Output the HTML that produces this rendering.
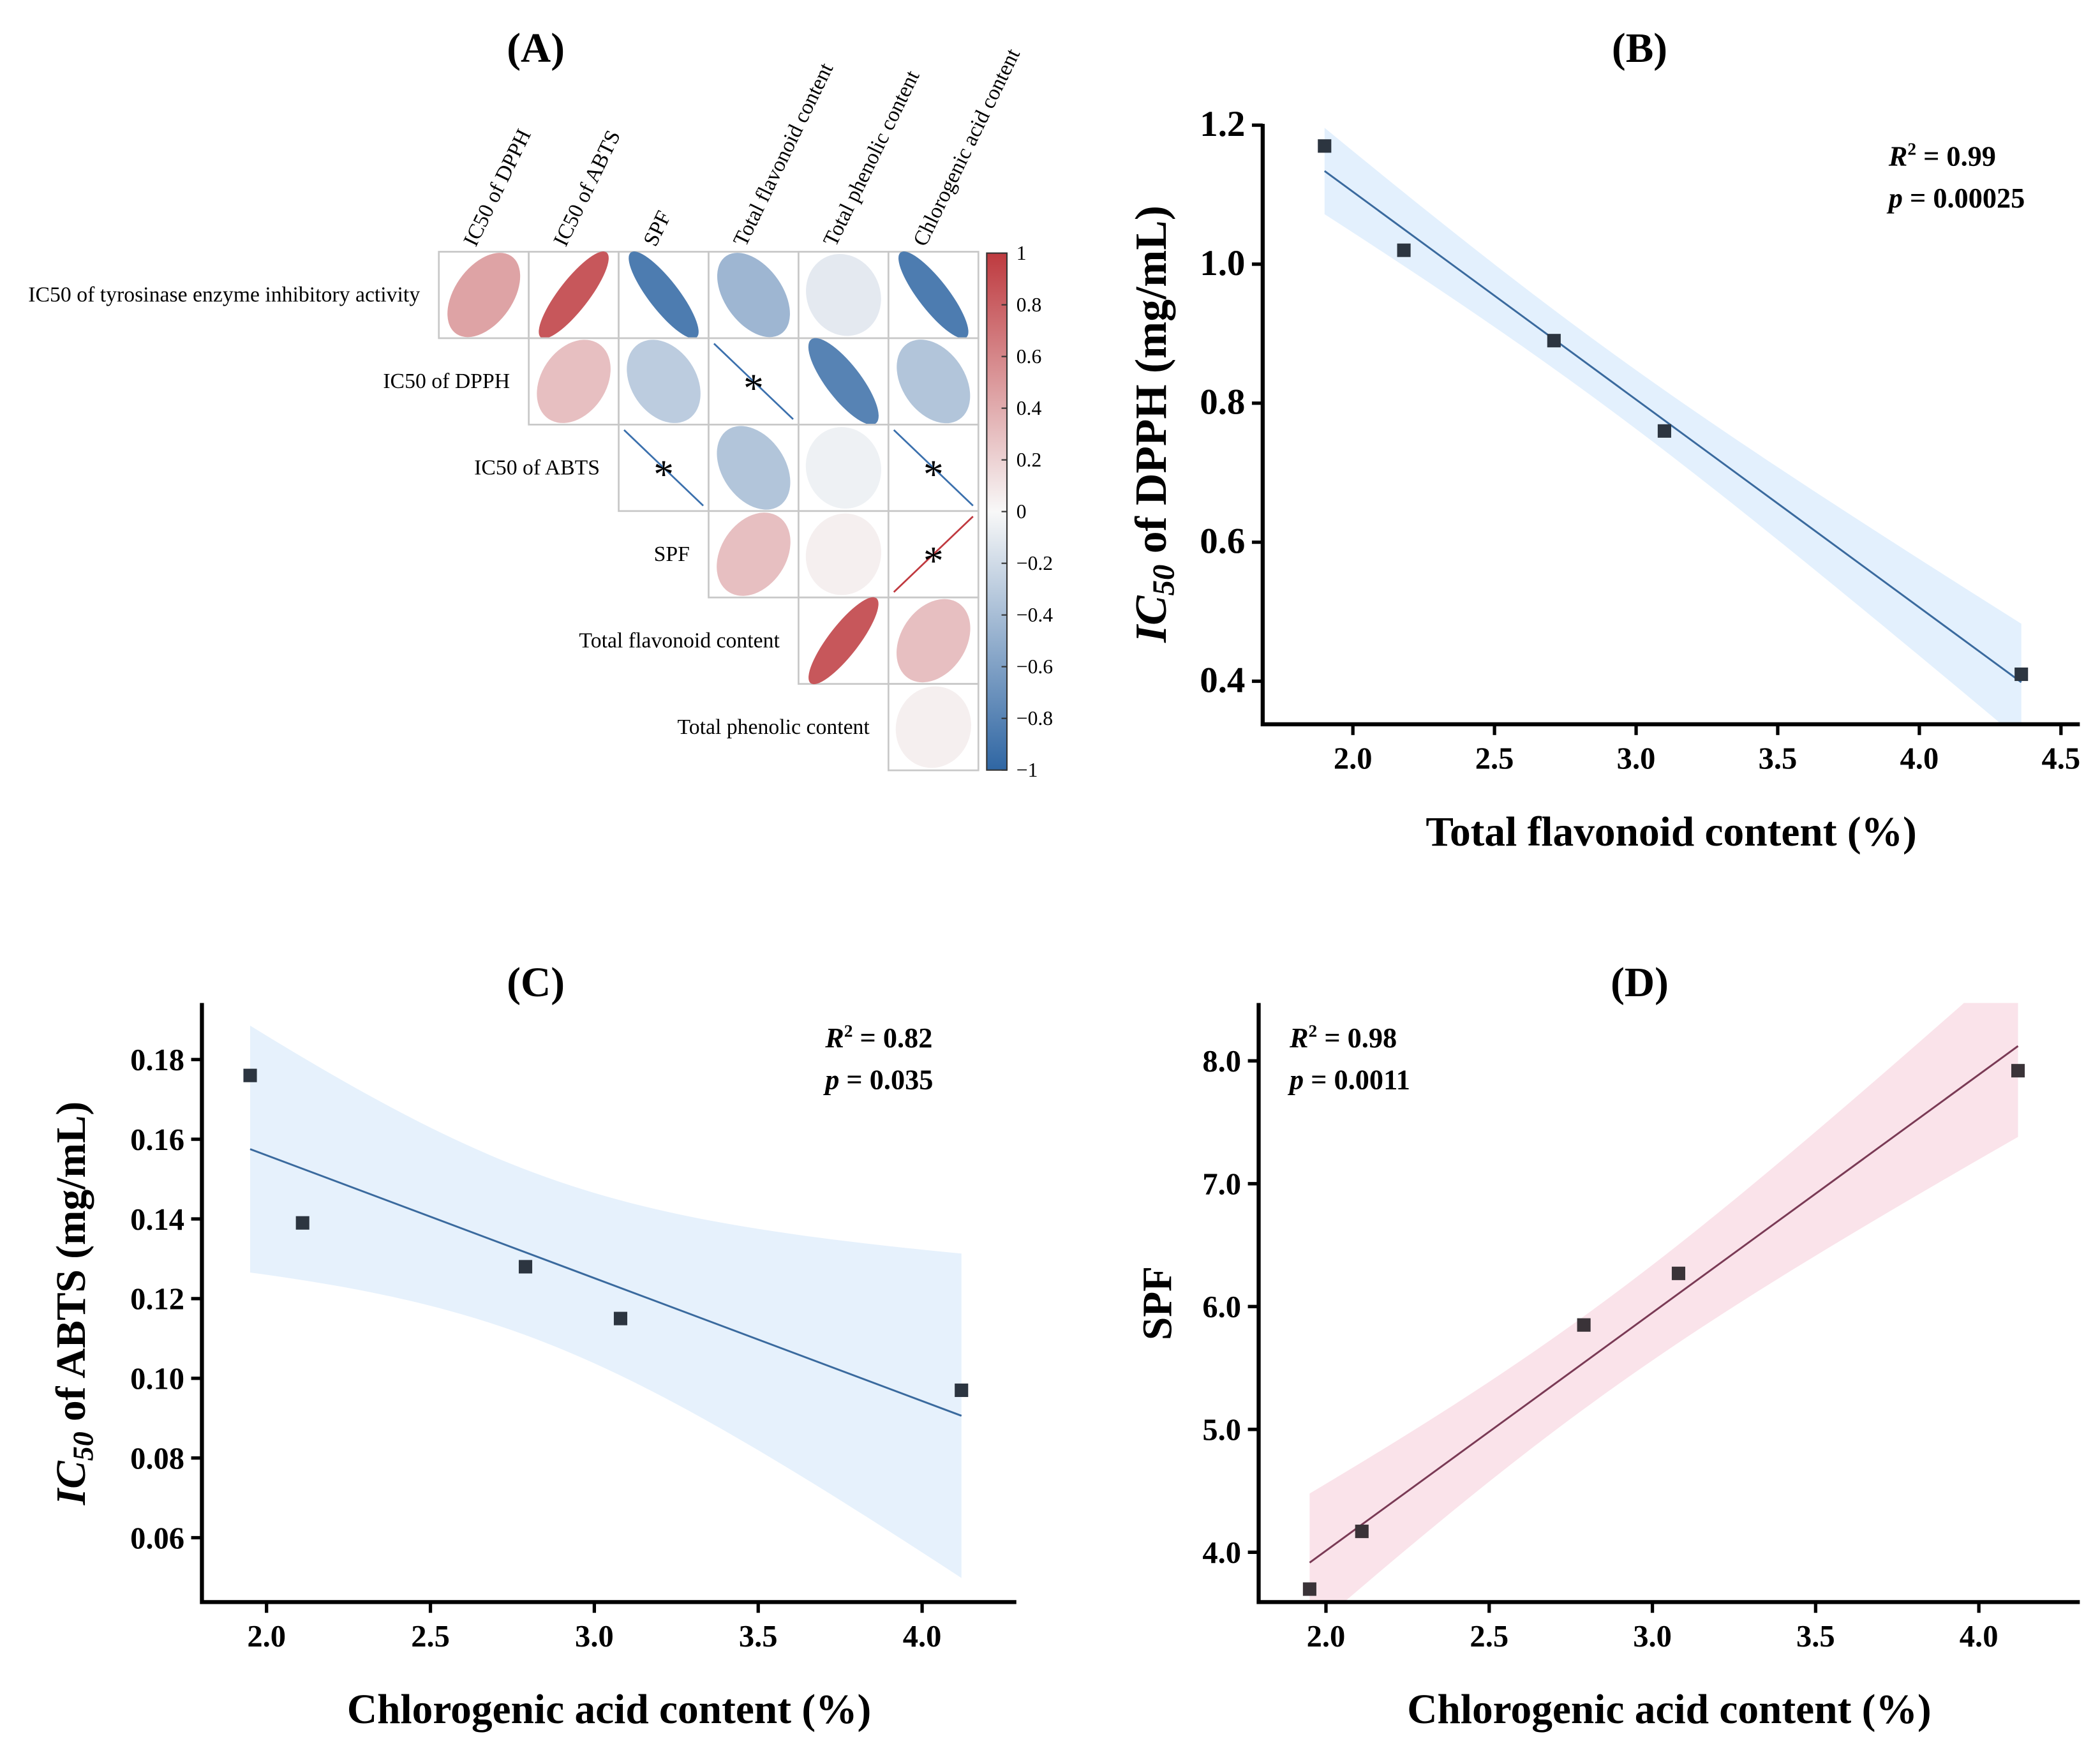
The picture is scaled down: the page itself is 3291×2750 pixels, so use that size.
<!DOCTYPE html>
<html><head><meta charset="utf-8">
<style>
html,body{margin:0;padding:0;background:#fff;}
svg{display:block;}
text{font-family:"Liberation Serif",serif;}
</style></head>
<body>
<svg id="fig" xmlns="http://www.w3.org/2000/svg" width="3291" height="2750" viewBox="0 0 1560 1303.6" preserveAspectRatio="none">
<defs>
<linearGradient id="cbgrad" x1="0" y1="0" x2="0" y2="1">
<stop offset="0" stop-color="#BE3A3F"/><stop offset="0.5" stop-color="#F8F8F8"/><stop offset="1" stop-color="#2F66A3"/>
</linearGradient>
<clipPath id="clipB"><rect x="938" y="85" width="607" height="453"/></clipPath>
<clipPath id="clipC"><rect x="150" y="745" width="605" height="445"/></clipPath>
<clipPath id="clipD"><rect x="935" y="745" width="610" height="445"/></clipPath>
</defs>
<g id="root"></g>
</svg>
<script>
// ---------- Panel A data ----------
const corrLabels = ["IC50 of tyrosinase enzyme inhibitory activity","IC50 of DPPH","IC50 of ABTS","SPF","Total flavonoid content","Total phenolic content","Chlorogenic acid content"];
const corrRow0 = [0.45, 0.85, -0.85, -0.45, -0.1, -0.85];
const corrRow1 = [0.3, -0.3, -0.99, -0.8, -0.35];
const corrRow2 = [-0.99, -0.35, -0.05, -0.99];
const corrRow3 = [0.3, 0.05, 0.99];
const corrRow4 = [0.85, 0.3];
const corrRow5 = [0.05];
const sigRow1 = [false,false,true,false,false];
const sigRow2 = [true,false,false,true];
const sigRow3 = [false,false,true];
const colorbarTicks = ["1","0.8","0.6","0.4","0.2","0","−0.2","−0.4","−0.6","−0.8","−1"];
// ---------- Panel B data ----------
const bX = [1.9, 2.18, 2.71, 3.1, 4.36];
const bY = [1.17, 1.02, 0.89, 0.76, 0.41];
const bXTicks = [2.0, 2.5, 3.0, 3.5, 4.0, 4.5];
const bYTicks = [0.4, 0.6, 0.8, 1.0, 1.2];
// ---------- Panel C data ----------
const cX = [1.95, 2.11, 2.79, 3.08, 4.12];
const cY = [0.176, 0.139, 0.128, 0.115, 0.097];
const cXTicks = [2.0, 2.5, 3.0, 3.5, 4.0];
const cYTicks = [0.06, 0.08, 0.10, 0.12, 0.14, 0.16, 0.18];
// ---------- Panel D data ----------
const dX = [1.95, 2.11, 2.79, 3.08, 4.12];
const dY = [3.7, 4.17, 5.85, 6.27, 7.92];
const dXTicks = [2.0, 2.5, 3.0, 3.5, 4.0];
const dYTicks = [4.0, 5.0, 6.0, 7.0, 8.0];

const NS = "http://www.w3.org/2000/svg";
const root = document.getElementById("root");
function mk(tag, attrs, parent, txt){
  const e = document.createElementNS(NS, tag);
  for (const k in attrs) e.setAttribute(k, attrs[k]);
  if (txt !== undefined) e.textContent = txt;
  (parent||root).appendChild(e);
  return e;
}

// ---------- Panel A ----------
const gA = mk("g", {});


let t = mk("text",{x:398,y:46,"text-anchor":"middle","font-size":31,"font-weight":"bold"},gA,"(A)");


const cellX0 = 326, cellW = 66.8, cellY0 = 187, cellH = 64.2;
function hexToRgb(h){return [1,3,5].map(i=>parseInt(h.substr(i,2),16));}
function corrColor(r){
  const w=hexToRgb("#F8F8F8"), red=hexToRgb("#BE3A3F"), blu=hexToRgb("#2F66A3");
  const c = r>=0?red:blu, f=Math.min(1,Math.abs(r));
  const m = w.map((v,i)=>Math.round(v+(c[i]-v)*f));
  return "rgb("+m.join(",")+")";
}
const rows = [corrRow0,corrRow1,corrRow2,corrRow3,corrRow4,corrRow5];
const sigs = [null,sigRow1,sigRow2,sigRow3,null,null];
rows.forEach((row,i)=>{
  const startCol = i;
  row.forEach((r,j)=>{
    const col = startCol + j;
    const x = cellX0 + col*cellW, y = cellY0 + i*cellH;
    const cell = mk("rect",{x:x,y:y,width:cellW,height:cellH,fill:"#fff",stroke:"#c8c8c8","stroke-width":1.3},gA);
    
    
    const cx = x+cellW/2, cy = y+cellH/2;
    if (Math.abs(r) > 0.95) {
      const dx = cellW/2-4, dy = cellH/2-4;
      const ln = mk("line",{x1:cx-dx,y1:r>0?cy+dy:cy-dy,x2:cx+dx,y2:r>0?cy-dy:cy+dy,stroke:r>0?"#C0393F":"#3B70AD","stroke-width":1.3},gA);
      
      
    } else {
      const k = 29;
      const a = k*Math.sqrt(1+r), b = k*Math.sqrt(1-r);
      const ang = r>=0 ? -50 : 50;
      const major = r>=0 ? a : b, minor = r>=0 ? b : a;
      const ell = mk("ellipse",{cx:0,cy:0,rx:major,ry:minor,fill:corrColor(r),
        transform:"translate("+cx+","+cy+") scale(0.97,1.04) rotate("+ang+")"},gA);
      
      
    }
    if (sigs[i] && sigs[i][j]) {
      const s = mk("text",{x:cx,y:cy+15,"text-anchor":"middle","font-size":30},gA,"*");
      
      
    }
  });
  const lab = mk("text",{x:cellX0+i*cellW-14,y:cellY0+i*cellH+cellH/2+5,"text-anchor":"end","font-size":16},gA,corrLabels[i]);
  
  
});
for (let j=1;j<7;j++){
  const cx = cellX0+(j-1)*cellW+cellW/2 - 6;
  const lab = mk("text",{x:0,y:0,"font-size":16,transform:"translate("+cx+","+(cellY0-3)+") rotate(-64)"},gA,corrLabels[j]);
  
  
}
// colorbar
const cbX=733, cbY=188, cbW=15, cbH=384;
let cb = mk("rect",{x:cbX,y:cbY,width:cbW,height:cbH,fill:"url(#cbgrad)",stroke:"#333","stroke-width":1},gA);


colorbarTicks.forEach((lbl,i)=>{
  const y = cbY + i*cbH/(colorbarTicks.length-1);
  mk("line",{x1:cbX+cbW-4,x2:cbX+cbW,y1:y,y2:y,stroke:"#333","stroke-width":1},gA);
  const tt = mk("text",{x:cbX+cbW+7,y:y+5,"font-size":15},gA,lbl);
  
  
});

// ---------- Scatter panels ----------
function scatterPanel(cfg){
  const g = mk("g",{});
  
  
  const sx = v => cfg.px0 + (v-cfg.xv0)*cfg.pxPer;
  const sy = v => cfg.py0 - (v-cfg.yv0)*cfg.pyPer;
  const xs = cfg.x, ys = cfg.y, n = xs.length;
  const mx = xs.reduce((a,b)=>a+b)/n, my = ys.reduce((a,b)=>a+b)/n;
  let sxx=0,sxy=0; xs.forEach((v,i)=>{sxx+=(v-mx)**2; sxy+=(v-mx)*(ys[i]-my);});
  const slope = sxy/sxx, icpt = my - slope*mx;
  let sse=0; xs.forEach((v,i)=>{sse+=(ys[i]-(icpt+slope*v))**2;});
  const s = Math.sqrt(sse/(n-2)), tcrit = 3.182;
  const xmin = Math.min(...xs), xmax = Math.max(...xs);
  const up=[], lo=[];
  for (let k=0;k<=60;k++){
    const xv = xmin + (xmax-xmin)*k/60;
    const yh = icpt+slope*xv;
    const se = tcrit*s*Math.sqrt(1/n + (xv-mx)**2/sxx);
    up.push(sx(xv).toFixed(2)+","+sy(yh+se).toFixed(2));
    lo.unshift(sx(xv).toFixed(2)+","+sy(yh-se).toFixed(2));
  }
  const gc = mk("g",{"clip-path":"url(#"+cfg.clip+")"},g);
  const band = mk("polygon",{points:up.concat(lo).join(" "),fill:cfg.bandColor},gc);
  
  
  const ln = mk("line",{x1:sx(xmin),y1:sy(icpt+slope*xmin),x2:sx(xmax),y2:sy(icpt+slope*xmax),stroke:cfg.lineColor,"stroke-width":1.4},gc);
  
  
  xs.forEach((v,i)=>{
    const p = mk("rect",{x:sx(v)-5,y:sy(ys[i])-5,width:10,height:10,fill:cfg.ptColor},g);
    
    
  });
  const ax = mk("path",{d:"M"+cfg.axL+","+cfg.axT+" V"+cfg.axB+" H"+cfg.axR,fill:"none",stroke:"#000","stroke-width":3},g);
  
  
  cfg.xt.forEach(v=>{
    const x = sx(v);
    mk("line",{x1:x,x2:x,y1:cfg.axB,y2:cfg.axB+8,stroke:"#000","stroke-width":2.5},g);
    const tl = mk("text",{x:x,y:cfg.axB+33,"text-anchor":"middle","font-size":23,"font-weight":"bold"},g,v.toFixed(cfg.xdec));
    
    
  });
  cfg.yt.forEach(v=>{
    const y = sy(v);
    mk("line",{x1:cfg.axL-8,x2:cfg.axL,y1:y,y2:y,stroke:"#000","stroke-width":2.5},g);
    const tl = mk("text",{x:cfg.axL-13,y:y+8,"text-anchor":"end","font-size":cfg.ytfs,"font-weight":"bold"},g,v.toFixed(cfg.ydec));
    
    
  });
  const title = mk("text",{x:cfg.tx,y:cfg.ty,"text-anchor":"middle","font-size":31,"font-weight":"bold"},g,cfg.title);
  
  
  const xl = mk("text",{x:(cfg.axL+cfg.axR)/2,y:cfg.axB+90,"text-anchor":"middle","font-size":31,"font-weight":"bold"},g,cfg.xlabel);
  
  
  const yl = mk("text",{x:0,y:0,"text-anchor":"middle","font-size":cfg.ylfs,"font-weight":"bold",transform:"translate("+cfg.ylx+","+cfg.yly+") rotate(-90)"},g);
  
  
  if (cfg.ic50){
    mk("tspan",{"font-style":"italic"},yl,"IC");
    mk("tspan",{"font-style":"italic","font-size":cfg.ylfs*0.7,dy:6},yl,"50");
    mk("tspan",{dy:-6},yl," "+cfg.ylabel);
  } else { yl.textContent = cfg.ylabel; }
  const r2 = mk("text",{x:cfg.ax0,y:cfg.ay0,"font-size":21,"font-weight":"bold"},g);
  
  
  mk("tspan",{"font-style":"italic"},r2,"R");
  mk("tspan",{"font-size":13,dy:-8},r2,"2");
  mk("tspan",{dy:8},r2," = "+cfg.r2);
  const pv = mk("text",{x:cfg.ax0,y:cfg.ay0+31,"font-size":21,"font-weight":"bold"},g);
  
  
  mk("tspan",{"font-style":"italic"},pv,"p");
  mk("tspan",{},pv," = "+cfg.p);
}
scatterPanel({name:"panel-b-scatter",x:bX,y:bY,xt:bXTicks,yt:bYTicks,xdec:1,ydec:1,ytfs:27,
  px0:1005,xv0:2.0,pxPer:210.4,py0:506,yv0:0.4,pyPer:516.3,
  axL:938,axR:1545,axT:92,axB:538,clip:"clipB",
  bandColor:"#E3F0FD",lineColor:"#3A6A9E",ptColor:"#2c3540",
  title:"(B)",tx:1218,ty:46,xlabel:"Total flavonoid content (%)",ylabel:"of DPPH (mg/mL)",ic50:true,ylfs:33,ylx:866,yly:315,
  ax0:1403,ay0:123,r2:"0.99",p:"0.00025"});
scatterPanel({name:"panel-c-scatter",x:cX,y:cY,xt:cXTicks,yt:cYTicks,xdec:1,ydec:2,ytfs:23,
  px0:198,xv0:2.0,pxPer:243.5,py0:787,yv0:0.18,pyPer:2960,
  axL:150,axR:755,axT:745,axB:1190,clip:"clipC",
  bandColor:"#E6F1FC",lineColor:"#3A6A9E",ptColor:"#2c3540",
  title:"(C)",tx:398,ty:740,xlabel:"Chlorogenic acid content (%)",ylabel:"of ABTS (mg/mL)",ic50:true,ylfs:31,ylx:63,yly:968,
  ax0:613,ay0:778,r2:"0.82",p:"0.035"});
scatterPanel({name:"panel-d-scatter",x:dX,y:dY,xt:dXTicks,yt:dYTicks,xdec:1,ydec:1,ytfs:23,
  px0:985,xv0:2.0,pxPer:242.5,py0:788,yv0:8.0,pyPer:91.25,
  axL:935,axR:1545,axT:745,axB:1190,clip:"clipD",
  bandColor:"#FAE3EA",lineColor:"#7A3A55",ptColor:"#3a3338",
  title:"(D)",tx:1218,ty:740,xlabel:"Chlorogenic acid content (%)",ylabel:"SPF",ic50:false,ylfs:31,ylx:870,yly:968,
  ax0:958,ay0:778,r2:"0.98",p:"0.0011"});
</script>
</body></html>
